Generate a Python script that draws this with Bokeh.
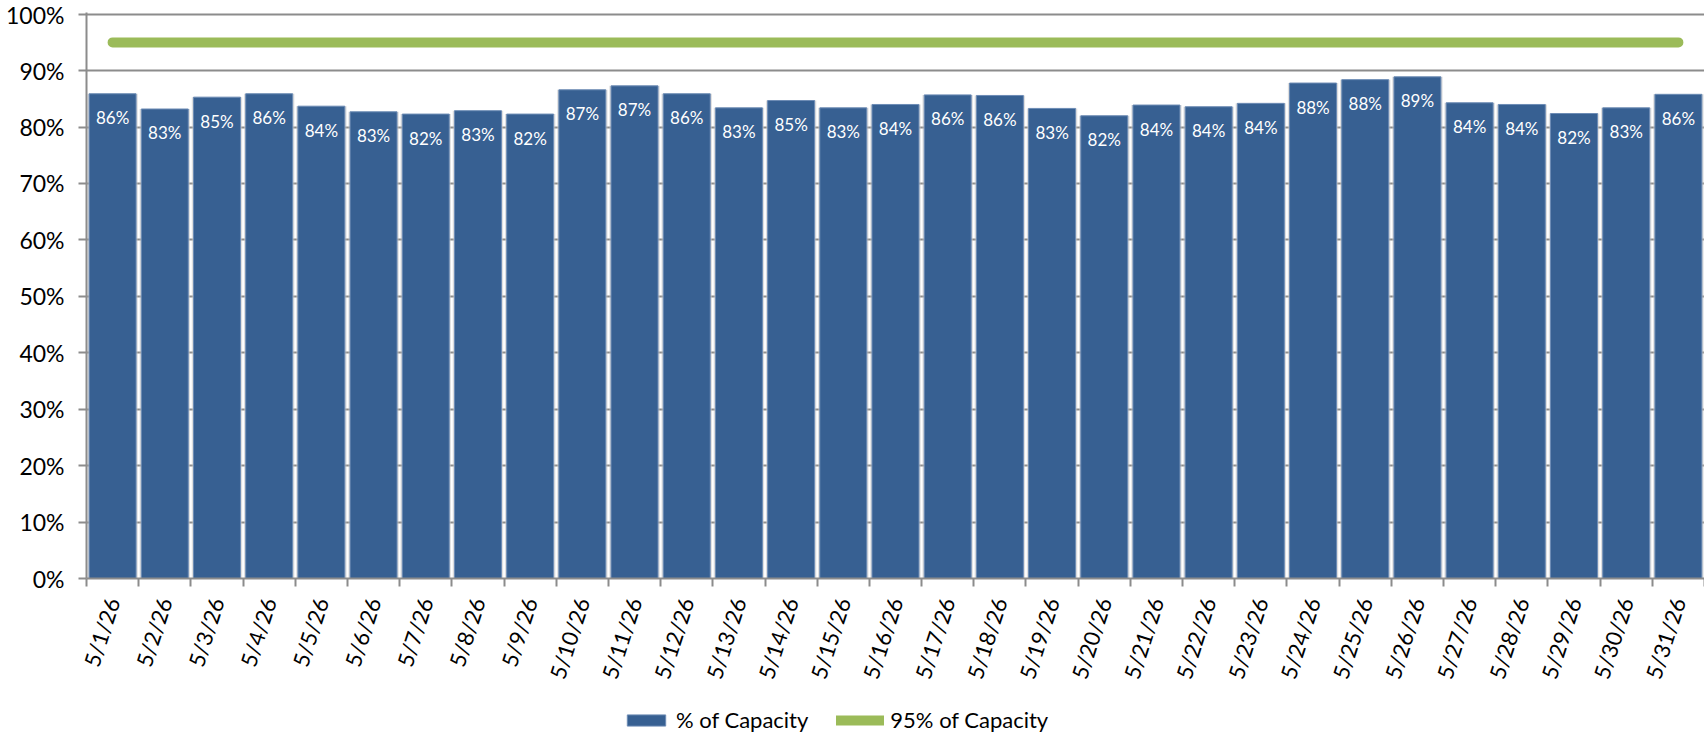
import math
from bokeh.plotting import figure
from bokeh.layouts import column
from bokeh.models import (Range1d, FixedTicker, PrintfTickFormatter, Legend,
                          LegendItem, ColumnDataSource)
from bokeh.core.properties import value
from bokeh.embed import file_html
from bokeh.resources import INLINE

# ---------------- data ----------------
dates = ["5/1/26", "5/2/26", "5/3/26", "5/4/26", "5/5/26", "5/6/26", "5/7/26",
         "5/8/26", "5/9/26", "5/10/26", "5/11/26", "5/12/26", "5/13/26",
         "5/14/26", "5/15/26", "5/16/26", "5/17/26", "5/18/26", "5/19/26",
         "5/20/26", "5/21/26", "5/22/26", "5/23/26", "5/24/26", "5/25/26",
         "5/26/26", "5/27/26", "5/28/26", "5/29/26", "5/30/26", "5/31/26"]
capacity_pct = [85.9, 83.2, 85.3, 85.9, 83.7, 82.7, 82.3, 82.9, 82.3, 86.6,
                87.3, 85.9, 83.4, 84.7, 83.4, 84.0, 85.7, 85.6, 83.3, 82.0,
                83.9, 83.6, 84.2, 87.8, 88.4, 88.9, 84.3, 84.0, 82.4, 83.4,
                85.8]
target_level = 95
target_pct = [target_level] * len(dates)
y_ticks = [0, 10, 20, 30, 40, 50, 60, 70, 80, 90, 100]
series_names = ["% of Capacity", "95% of Capacity"]

# ---------------- styling ----------------
FONT = "Lato"
BAR = "#376092"
BAR_EDGE = "#6d8cb5"
GREEN = "#9bbb59"
GRID = "#8c8c8c"
W = 1704
H_MAIN = 700
H_LEG = 34

idx = list(range(len(dates)))
labels = [f"{round(v)}%" for v in capacity_pct]
src = ColumnDataSource(dict(x=idx, y=capacity_pct, label=labels,
                            target=target_pct, date=dates))

p = figure(width=W, height=H_MAIN, output_backend="svg", toolbar_location=None,
           x_range=Range1d(-0.5, len(dates) - 0.5), y_range=Range1d(0, 100.3),
           min_border_left=86, min_border_right=0, min_border_top=12,
           min_border_bottom=122)
p.outline_line_color = None
p.background_fill_color = "white"
p.border_fill_color = "white"

# grid
p.xgrid.grid_line_color = None
p.ygrid.ticker = FixedTicker(ticks=y_ticks)
p.ygrid.grid_line_color = GRID
p.ygrid.grid_line_width = 2

# y axis
yax = p.yaxis[0]
yax.ticker = FixedTicker(ticks=y_ticks)
yax.formatter = PrintfTickFormatter(format="%d%%")
yax.axis_line_color = GRID
yax.axis_line_width = 2
yax.major_tick_line_color = GRID
yax.major_tick_line_width = 2
yax.major_tick_out = 8
yax.major_tick_in = 0
yax.minor_tick_line_color = None
yax.major_label_standoff = 14
yax.major_label_text_font = FONT
yax.major_label_text_font_size = "23px"
yax.major_label_text_color = "black"

# x axis
xax = p.xaxis[0]
xax.ticker = FixedTicker(ticks=idx, minor_ticks=[i - 0.5 for i in range(len(dates) + 1)])
xax.major_label_overrides = {i: d for i, d in zip(idx, dates)}
xax.axis_line_color = GRID
xax.axis_line_width = 2
xax.major_tick_out = 0
xax.major_tick_in = 0
xax.major_tick_line_color = None
xax.minor_tick_out = 8
xax.minor_tick_in = 0
xax.minor_tick_line_color = GRID
xax.minor_tick_line_width = 2
xax.major_label_orientation = math.radians(72)
xax.major_label_standoff = 12
xax.major_label_text_font = FONT
xax.major_label_text_font_size = "22px"
xax.major_label_text_color = "black"

# bars (with soft shadow)
p.vbar(x="x", top="y", bottom=0, width=0.965, source=src,
       fill_color="#c4c4c4", fill_alpha=0.55, line_color=None)
p.vbar(x="x", top="y", bottom=0, width=0.9, source=src,
       fill_color=BAR, line_color=BAR_EDGE, line_width=1)

# bar labels
p.text(x="x", y="y", text="label", source=src, y_offset=24,
       text_align="center", text_baseline="middle", text_color="white",
       text_font=value(FONT), text_font_size="17px")

# target line
p.line(x="x", y="target", source=src, line_color=GREEN,
       line_width=10, line_cap="round")

# ---------------- legend strip ----------------
lf = figure(width=W, height=H_LEG, output_backend="svg", toolbar_location=None,
            x_range=Range1d(0, 1), y_range=Range1d(1, 2),
            x_axis_location=None, y_axis_location=None,
            min_border_left=0, min_border_right=0, min_border_top=0,
            min_border_bottom=0)
lf.outline_line_color = None
lf.grid.grid_line_color = None
# legend keys only (their single point lies outside this strip's ranges)
key_src = ColumnDataSource(dict(x=[0], y=[0]))
key_bar = lf.vbar(x="x", top="y", width=0.1, source=key_src,
                  fill_color=BAR, line_color=BAR_EDGE, line_width=1)
key_line = lf.line(x="x", y="y", source=key_src, line_color=GREEN,
                   line_width=10, line_cap="round")

legend = Legend(items=[LegendItem(label=series_names[0], renderers=[key_bar]),
                       LegendItem(label=series_names[1], renderers=[key_line])],
                orientation="horizontal", location=(536, 1),
                glyph_width=48, glyph_height=14, label_standoff=6, spacing=28,
                padding=0, margin=0, border_line_color=None,
                background_fill_alpha=0, label_text_font=FONT,
                label_text_font_size="22px", label_text_color="black")
lf.add_layout(legend)

layout = column(p, lf, spacing=0)
open("out.html", "w").write(file_html(layout, INLINE))
